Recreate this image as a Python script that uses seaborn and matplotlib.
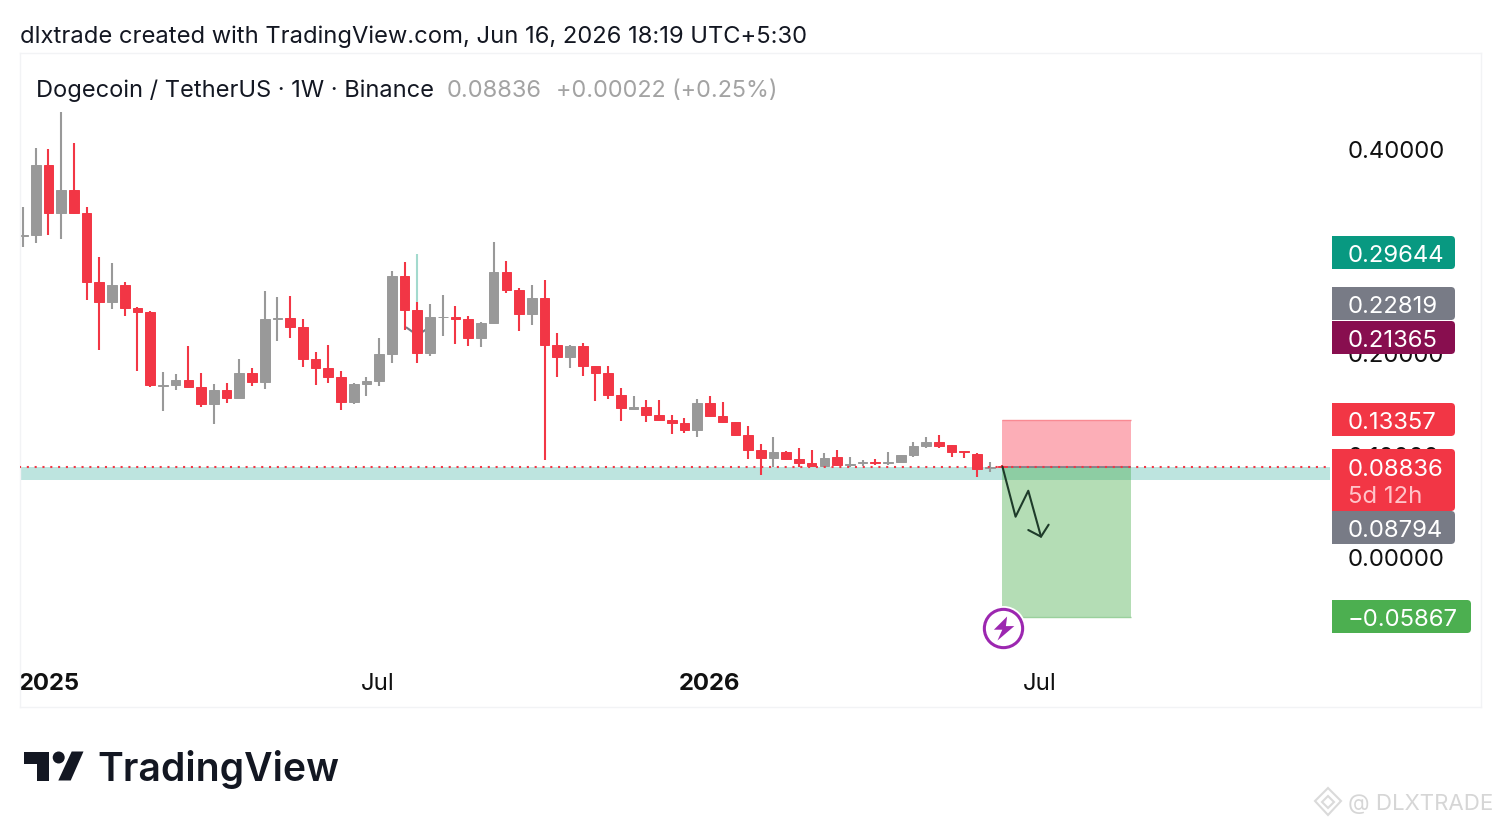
import matplotlib
matplotlib.use("Agg")

import numpy as np
import pandas as pd
import matplotlib.pyplot as plt
import seaborn as sns
from matplotlib.patches import Polygon, Circle, Rectangle, FancyBboxPatch
from matplotlib.path import Path
from matplotlib.transforms import Affine2D

# -----------------------------
# Data
# -----------------------------

opens = [.3144, .3149, .3831, .3367, .3589, .3367, .2687, .2494, .2660, .2435,
         .2396, .1677, .1682, .1728, .1666, .1493, .1630, .1558, .1797, .1709,
         .2332, .2337, .2252, .1939, .1845, .1757, .1513, .1695, .1721, .1985,
         .2745, .2416, .1992, .2347, .2350, .2325, .2142, .2289, .2784, .2608,
         .2374, .2533, .2076, .1953, .2064, .1868, .1797, .1587, .1450, .1467,
         .1392, .1343, .1311, .1242, .1503, .1382, .1317, .1196, .1046, .0971,
         .1027, .0955, .0922, .0890, .0975, .0897, .0922, .0929, .0916, .0929,
         .0995, .1083, .1125, .1092, .1037, .1007, .0873, .0893]

highs = [.3426, .3997, .3990, .4349, .4049, .3426, .2934, .2872, .2692, .2448,
         .2409, .1812, .1790, .2064, .1802, .1695, .1699, .1933, .1851, .2601,
         .2540, .2550, .2325, .2005, .2070, .1816, .1705, .1760, .2142, .2794,
         .2882, .2491, .2474, .2565, .2455, .2354, .2298, .3078, .2895, .2628,
         .2660, .2706, .2188, .2076, .2096, .1871, .1871, .1656, .1572, .1538,
         .1533, .1389, .1356, .1545, .1575, .1513, .1317, .1281, .1102, .1177,
         .1040, .1063, .1046, .1020, .1046, .0981, .0949, .0961, .1027, .1000,
         .1122, .1171, .1190, .1092, .1040, .1020, .0929, .0903]

lows = [.3035, .3074, .3152, .3107, .3355, .2511, .2024, .2425, .2354, .1822,
        .1660, .1431, .1633, .1656, .1467, .1304, .1509, .1558, .1675, .1646,
        .2115, .2145, .1861, .1685, .1705, .1435, .1493, .1578, .1669, .1894,
        .2220, .1894, .1966, .2164, .2080, .2067, .2054, .2276, .2582, .2210,
        .2269, .0952, .1763, .1851, .1770, .1526, .1542, .1333, .1435, .1323,
        .1333, .1206, .1216, .1171, .1366, .1313, .1183, .0955, .0802, .0883,
        .0949, .0883, .0877, .0883, .0893, .0883, .0890, .0900, .0903, .0926,
        .0975, .1066, .1066, .0981, .0971, .0785, .0828, .0877]

closes = [.3149, .3831, .3367, .3589, .3367, .2687, .2494, .2660, .2435, .2396,
          .1682, .1682, .1728, .1666, .1493, .1630, .1558, .1797, .1709, .2325,
          .2337, .2252, .1939, .1845, .1757, .1513, .1695, .1721, .1985, .2745,
          .2416, .1992, .2344, .2350, .2325, .2142, .2292, .2784, .2608, .2377,
          .2533, .2076, .1953, .2064, .1868, .1797, .1587, .1454, .1467, .1392,
          .1343, .1311, .1242, .1503, .1382, .1317, .1196, .1046, .0971, .1027,
          .0955, .0922, .0887, .0971, .0903, .0912, .0932, .0916, .0926, .0995,
          .1083, .1122, .1089, .1027, .1027, .0864, .0877, .0883]

y_ticks = [0.0, 0.1, 0.2, 0.4]
y_tick_labels = ["0.00000", "0.10000", "0.20000", "0.40000"]
x_ticks = [2.04, 27.9, 54.0, 79.95]
x_tick_labels = ["2025", "Jul", "2026", "Jul"]

# odd long wick in the target colour on the candle at index 31
odd_wick_x = [31, 31]
odd_wick_y = [0.2964, 0.2491]

# small dark tick mark hiding behind candle 31
hidden_x = [30.15, 31, 31.8]
hidden_y = [0.2244, 0.2169, 0.2234]

stop_price = 0.13357
entry_price = 0.08836
target_price = -0.05867
zone_x = [77, 87.1]
band_low = 0.0753
band_high = 0.0880
band_x = [-0.3, 102.76]

arrow_x = [77, 78.03, 79.03, 80.03]
arrow_y = [0.0883, 0.0394, 0.0648, 0.0199]
head_x = [79.03, 80.03, 80.63]
head_y = [0.0264, 0.0199, 0.0316]

RED = "#F23645"
GRAY = "#999999"
FS = 17.2

# -----------------------------
# Figure
# -----------------------------

sns.set_theme(style="white")
plt.rcParams["font.family"] = ["Inter", "DejaVu Sans"]

fig = plt.figure(figsize=(15.01, 8.28), dpi=100, facecolor="white")
ax = fig.add_axes([20 / 1501, 1 - 708 / 828, 1461 / 1501, 654 / 828])
px = Affine2D().scale(1, -1).translate(0, 828)

df = pd.DataFrame({"i": np.arange(len(opens)), "open": opens, "high": highs,
                   "low": lows, "close": closes})
df["top"] = df[["open", "close"]].max(axis=1)
df["bottom"] = df[["open", "close"]].min(axis=1)
df["body"] = df["top"] - df["bottom"]
df["colour"] = np.where(df["close"] >= df["open"], "up", "down")

# -----------------------------
# Band, dotted price line, trade zones
# -----------------------------

ax.fill_between(band_x, band_low, band_high, color="#BDE4DF", lw=0, zorder=0.5)
ax.add_patch(Rectangle((zone_x[0], entry_price), zone_x[1] - zone_x[0],
                       stop_price - entry_price, fc="#F8364C", alpha=0.4, lw=0, zorder=0.8))
ax.add_patch(Rectangle((zone_x[0], target_price), zone_x[1] - zone_x[0],
                       entry_price - target_price, fc="#4CAF50", alpha=0.42, lw=0, zorder=0.8))
ax.hlines(stop_price, *zone_x, color="#F98A93", lw=1, zorder=0.9)
ax.hlines(target_price, *zone_x, color="#9AD09C", lw=1, zorder=0.9)
ax.hlines(entry_price, *zone_x, color="#787B86", lw=1.2, zorder=0.9)
ax.hlines(entry_price, *band_x, color=RED, lw=1.5, linestyles=(0, (1, 2.75)), zorder=3)

# -----------------------------
# Candles
# -----------------------------

sns.lineplot(x=hidden_x, y=hidden_y, color="#787B86", lw=1.5, ax=ax, sort=False,
             estimator=None, zorder=1)
sns.lineplot(x=odd_wick_x, y=odd_wick_y, color="#A3DACE", lw=1.5, ax=ax, sort=False,
             estimator=None, zorder=1.5, solid_capstyle="butt")

wicks = pd.concat([df[["i", "high", "colour"]].rename(columns={"high": "price"}),
                   df[["i", "low", "colour"]].rename(columns={"low": "price"})])
sns.lineplot(data=wicks, x="i", y="price", hue="colour", units="i", estimator=None,
             palette={"up": GRAY, "down": RED}, lw=1.5, legend=False, ax=ax,
             sort=False, zorder=2, solid_capstyle="butt")

for name, colour in [("up", GRAY), ("down", RED)]:
    part = df[df["colour"] == name]
    sns.barplot(data=part, x="i", y="body", bottom=part["bottom"].values, native_scale=True,
                color=colour, saturation=1, width=0.76, errorbar=None, edgecolor=colour,
                linewidth=0.7, ax=ax, zorder=2.2)

# -----------------------------
# Hand drawn arrow
# -----------------------------

sns.lineplot(x=arrow_x, y=arrow_y, color="#1E3B2A", lw=1.5, ax=ax, sort=False, estimator=None, zorder=4)
sns.lineplot(x=head_x, y=head_y, color="#1E3B2A", lw=1.5, ax=ax, sort=False, estimator=None, zorder=4)

# -----------------------------
# Axes
# -----------------------------

ax.set_xlim(-0.236, 114.62)
ax.set_ylim(-0.1467, 0.49291)
ax.set_xlabel("")
ax.set_ylabel("")

ax.yaxis.tick_right()
ax.set_yticks(y_ticks, y_tick_labels)
ax.set_xticks(x_ticks, x_tick_labels)
ax.tick_params(axis="y", length=0, pad=-96, labelsize=FS, labelcolor="#111111")
ax.tick_params(axis="x", length=0, pad=-25, labelsize=FS, labelcolor="#111111")
for lab in ax.get_xticklabels():
    if lab.get_text().startswith("20"):
        lab.set_fontweight("bold")

for s in ax.spines.values():
    s.set_color("#F2F3F5")
    s.set_linewidth(1)

# -----------------------------
# Price labels on the scale
# -----------------------------


def price_box(y0, y1, colour, lines, right=1455):
    fig.add_artist(FancyBboxPatch((1335, y0 + 3), right - 1338, y1 - y0 - 6,
                                  boxstyle="round,pad=3,rounding_size=4", fc=colour, lw=0,
                                  transform=px, zorder=5))
    fig.add_artist(Rectangle((1332, y0), 10, y1 - y0, fc=colour, lw=0, transform=px, zorder=5))
    for text, y, c in lines:
        fig.text(1348, y, text, color=c, fontsize=FS, va="center", ha="left", transform=px, zorder=6)


price_box(237, 270, "#089981", [("0.29644", 256, "white")])
price_box(288, 321, "#787B86", [("0.22819", 307, "white")])
price_box(322, 355, "#880E4F", [("0.21365", 341, "white")])
price_box(404, 437, RED, [("0.13357", 423, "white")])
price_box(450, 512, RED, [("0.08836", 470, "white"), ("5d 12h", 497, "#FFC4C9")])
price_box(512, 545, "#787B86", [("0.08794", 531, "white")])
price_box(601, 634, "#4CAF50", [("\u22120.05867", 620, "white")], right=1471)

# -----------------------------
# Lightning badge
# -----------------------------

ax.scatter([77.04], [-0.0694], s=1050, marker="o", fc="white", ec="white", lw=0, zorder=7, clip_on=False)
ax.scatter([77.04], [-0.0694], s=760, marker="o", fc="white", ec="#9C27B0", lw=2.2, zorder=7.1, clip_on=False)
bolt = Path(np.array([[3, 10], [-8, -1], [-1, -1], [-5, -10], [9, 2], [2, 2], [3, 10]], dtype=float))
ax.scatter([77.04], [-0.0694], s=300, marker=bolt, fc="#9C27B0", lw=0, zorder=7.2, clip_on=False)

# -----------------------------
# Header, logo, watermark
# -----------------------------

fig.text(20, 37, "dlxtrade created with TradingView.com, Jun 16, 2026 18:19 UTC+5:30",
         fontsize=17.1, color="#131722", va="center", transform=px)
fig.text(36, 91, "Dogecoin / TetherUS \u00b7 1W \u00b7 Binance", fontsize=17, color="#131722",
         va="center", transform=px)
fig.text(447, 91, "0.08836", fontsize=17, color="#A3A3A3", va="center", transform=px)
fig.text(556, 91, "+0.00022 (+0.25%)", fontsize=16.8, color="#A3A3A3", va="center", transform=px)

logo = "#131722"
fig.add_artist(Polygon([(24, 752.5), (49, 752.5), (49, 781.5), (36.7, 781.5), (36.7, 764.7), (24, 764.7)],
                       fc=logo, lw=0, transform=px))
fig.add_artist(Circle((58.7, 758.5), 6, fc=logo, lw=0, transform=px))
fig.add_artist(Polygon([(71.7, 752.5), (83.5, 752.5), (70.7, 781.5), (58.3, 781.5)], fc=logo, lw=0, transform=px))
fig.text(97, 770, "TradingView", fontsize=28.2, fontweight="semibold", color=logo, va="center", transform=px)

fig.text(1348, 804, "@ DLXTRADE", fontsize=16, color="#D6D6D6", va="center", transform=px)
wm = "#DADADA"
fig.add_artist(Polygon([(1328, 789), (1341, 802), (1328, 816), (1315, 802)], fc="none", ec=wm, lw=1.5, transform=px))
fig.add_artist(Polygon([(1328, 797), (1334, 803), (1328, 809), (1322, 803)], fc="none", ec=wm, lw=1.5, transform=px))

fig.savefig("out.png", dpi=100)
plt.close(fig)
